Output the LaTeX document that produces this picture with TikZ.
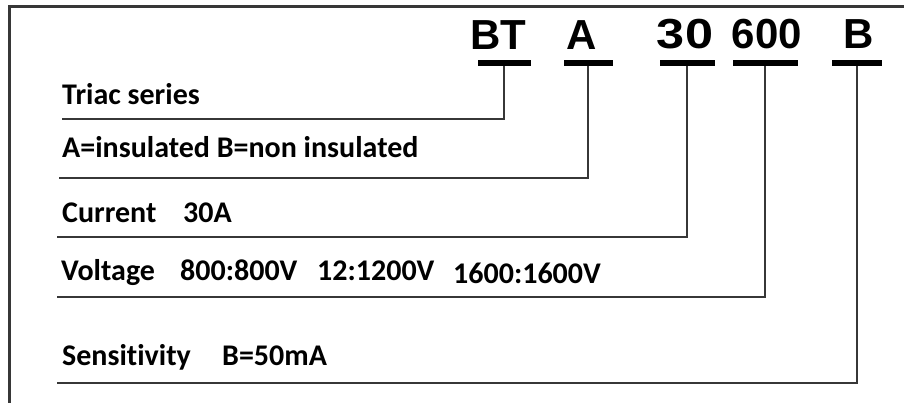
\documentclass[tikz,border=0pt]{standalone}
\usepackage{fontspec}
\setmainfont[Ligatures={NoCommon}]{Carlito}
\newfontfamily\codefont{Liberation Sans}
\usetikzlibrary{positioning}
\definecolor{framegray}{RGB}{55,55,55}
\tikzset{
  codetxt/.style={font=\codefont\bfseries\fontsize{42}{42}\selectfont,inner sep=0pt,anchor=base},
  codebar/.style={fill=black,inner sep=0pt,minimum height=6pt},
  desc/.style={font=\bfseries\fontsize{30}{30}\selectfont,inner sep=0pt,anchor=base west},
  lead/.style={draw=framegray,line width=2pt},
}
\begin{document}
\begin{tikzpicture}[x=1pt,y=-1pt]
\useasboundingbox (0,0) rectangle (904,403);
% open frame
\draw[framegray,line width=3pt] (910,7) -- (9,7) -- (9,410);
% part number
\node[codetxt] (tBT) at (498,50) {BT};
\node[codetxt] (tA) at (582,50) {A};
\node[codetxt,xscale=1.2] (t30) at (685,49) {30};
\node[codetxt] (t600) at (767,49) {600};
\node[codetxt] (tB) at (859,49) {B};
% bars and leaders down to each field
\foreach \n/\x/\w/\y/\l in {BT/504/53/119/62, A/588/49/178/59, 30/687/55/237/57,
    600/765/65/297/57, B/857/50/383/57}{
  \node[codebar,minimum width=\w pt] (b\n) at (\x,63) {};
  \coordinate (l\n) at (\l,\y);
  \draw[lead] (b\n) |- (l\n);
}
% field descriptions
\node[desc] (dBT) at (62,105) {Triac series};
\node[desc] (dA) at (62,158) {A=insulated B=non insulated};
\node[desc] (d30) at (62,223) {Current};
\node[desc] (v30) at (183,223) {30A};
\node[desc] (d600) at (61,280) {Voltage};
\node[desc] (v600a) at (180,280) {800:800V};
\node[desc] (v600b) at (317,280) {12:1200V};
\node[desc] (v600c) at (453,283) {1600:1600V};
\node[desc] (dB) at (62,365) {Sensitivity};
\node[desc] (vB) at (222,365) {B=50mA};
\end{tikzpicture}
\end{document}
